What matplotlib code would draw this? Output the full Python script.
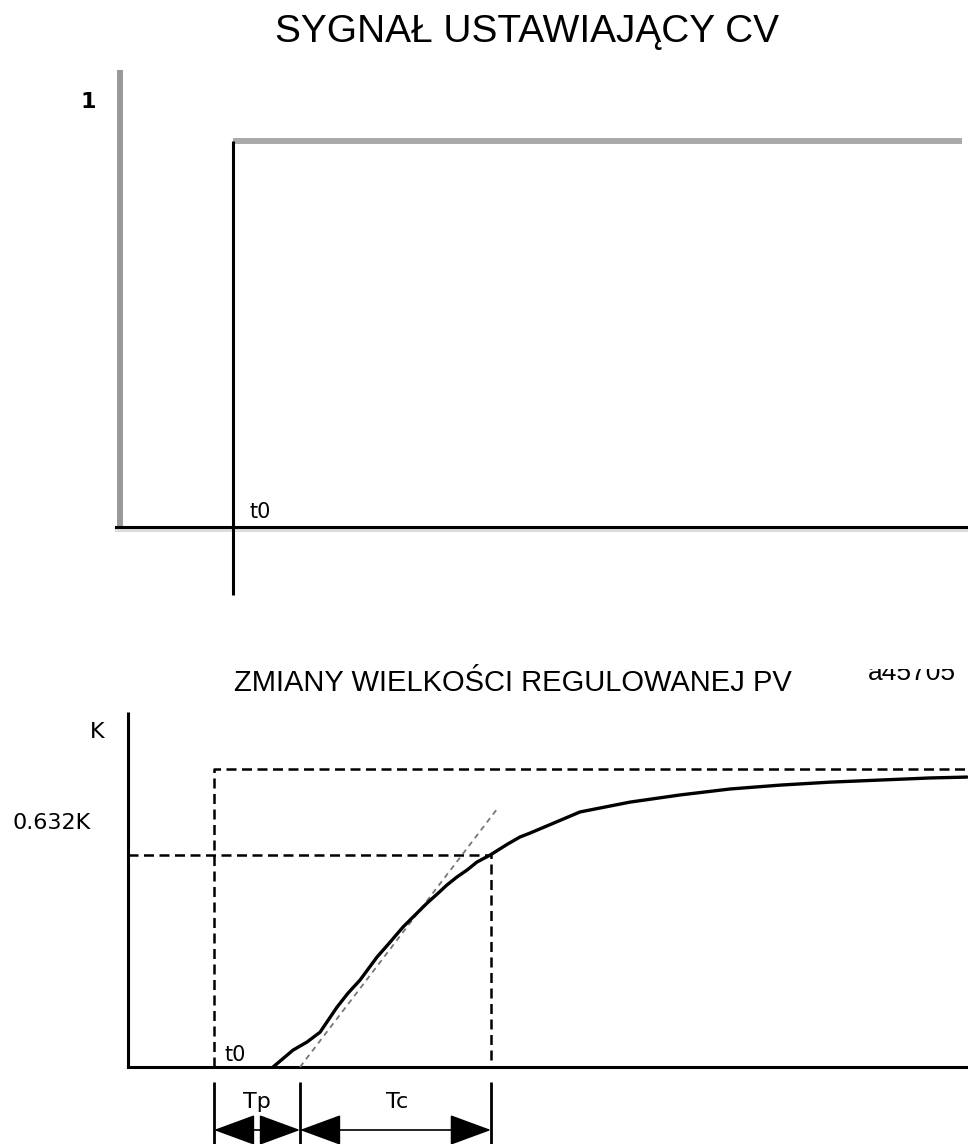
import matplotlib
matplotlib.use("Agg")
import matplotlib.pyplot as plt
from matplotlib import font_manager
from matplotlib.patches import FancyArrowPatch

# ---- data ----
# top panel: step of the manipulated value CV
cv_t0 = 1.0
cv_level = 1.0
cv_end = 7.45
cv_axis_top = 1.184
cv_t0_low = -0.176

# bottom panel: response of the process value PV (time, value as fraction of K)
pv_t = [1.686, 1.919, 2.081, 2.233, 2.430, 2.558, 2.698, 2.895, 3.047, 3.198, 3.337,
        3.477, 3.593, 3.709, 3.826, 3.942, 4.058, 4.209, 4.407, 4.558, 4.674, 5.256,
        5.837, 6.419, 7.000, 7.581, 8.163, 8.744, 9.326, 9.756]
pv_v = [0.0, 0.057, 0.084, 0.117, 0.201, 0.248, 0.292, 0.369, 0.419, 0.470, 0.510,
        0.550, 0.580, 0.611, 0.638, 0.661, 0.688, 0.711, 0.747, 0.772, 0.785, 0.856,
        0.889, 0.913, 0.933, 0.946, 0.956, 0.963, 0.970, 0.973]
pv_t0 = 1.0
tp_end = 2.0
tc_end = 4.22
k_level = 1.0
level_632 = 0.711
tangent_t = [2.0, 4.30]
tangent_v = [0.0, 0.869]
pv_axis_top = 1.191
pv_x_end = 9.77

title_top = "SYGNAŁ USTAWIAJĄCY CV"
title_bottom = "ZMIANY WIELKOŚCI REGULOWANEJ PV"
fig_code = "a45705"

names = {f.name for f in font_manager.fontManager.ttflist}
narrow = 'Liberation Sans Narrow' if 'Liberation Sans Narrow' in names else 'DejaVu Sans'
sans = 'Liberation Sans' if 'Liberation Sans' in names else 'DejaVu Sans'

W, H = 968, 1144
fig = plt.figure(figsize=(W / 100, H / 100), dpi=100)

def px_axes(top, bottom):
    return fig.add_axes([0, 1 - bottom / H, 1, (bottom - top) / H])

# ---- top panel ----
ax1 = px_axes(60, 605)
ax1.set_xlim(-1.062, 7.504)
ax1.set_ylim(-0.202, 1.210)
ax1.axis('off')

ax1.plot([0, 0], [0, cv_axis_top], color='#999999', lw=4.3, solid_capstyle='butt')
ax1.plot([-0.035, 7.504], [-0.008, -0.008], color='#dddddd', lw=2.2)
ax1.plot([-0.035, 7.504], [0, 0], color='black', lw=2.2)
ax1.plot([cv_t0, cv_end], [cv_level, cv_level], color='#aaaaaa', lw=4.3, solid_capstyle='butt')
ax1.plot([cv_t0, cv_t0], [cv_t0_low, cv_level], color='black', lw=2.2, solid_capstyle='butt')
ax1.text(-0.28, 1.1, "1", fontsize=16, family=narrow, ha='center', va='center', weight='bold')
ax1.text(1.24, 0.04, "t0", fontsize=15, family=narrow, ha='center', va='center')

fig.text(527 / W, 1 - 32 / H, title_top, fontsize=28, family=sans, ha='center', va='center')

# ---- bottom panel ----
ax2 = px_axes(669, 1144)
ax2.set_xlim(-1.488, 9.767)
ax2.set_ylim(-0.258, (1067 - 669) / 298)
ax2.axis('off')

dash = (0, (4, 2.2))
ax2.plot([0, 0], [0, pv_axis_top], color='black', lw=2.2, solid_capstyle='butt')
ax2.plot([0, 9.767], [0, 0], color='black', lw=2.2)
ax2.plot([pv_t0, pv_t0, pv_x_end], [0, k_level, k_level], color='black', lw=1.8, linestyle=dash)
ax2.plot([0, tc_end, tc_end], [level_632, level_632, 0], color='black', lw=1.8, linestyle=dash)
ax2.plot(tangent_t, tangent_v, color='#777777', lw=1.3, linestyle=(0, (3, 2.5)))
ax2.plot(pv_t, pv_v, color='black', lw=2.4, solid_joinstyle='round', solid_capstyle='round')

ax2.text(-0.36, 1.124, "K", fontsize=16, family=narrow, ha='center', va='center')
ax2.text(-0.884, 0.819, "0.632K", fontsize=16, family=narrow, ha='center', va='center')
ax2.text(1.244, 0.040, "t0", fontsize=15, family=narrow, ha='center', va='center')
ax2.text(9.12, 1.299, fig_code, fontsize=19, family=sans, ha='center', va='baseline', clip_on=True)

for t in [pv_t0, tp_end, tc_end]:
    ax2.plot([t, t], [-0.05, -0.258], color='black', lw=2.0, solid_capstyle='butt')

for a, b in [(pv_t0, tp_end), (tp_end, tc_end)]:
    arr = FancyArrowPatch((a, -0.211), (b, -0.211), arrowstyle='<|-|>,head_length=1.33,head_width=0.49',
                          mutation_scale=20, shrinkA=0, shrinkB=0, color='black', lw=1.2)
    ax2.add_patch(arr)

ax2.text(1.5, -0.117, "Tp", fontsize=16, family=narrow, ha='center', va='center')
ax2.text(3.128, -0.117, "Tc", fontsize=16, family=narrow, ha='center', va='center')

fig.text(513 / W, 1 - 683 / H, title_bottom, fontsize=21, family=sans, ha='center', va='center')

fig.savefig("out.png", dpi=100)
